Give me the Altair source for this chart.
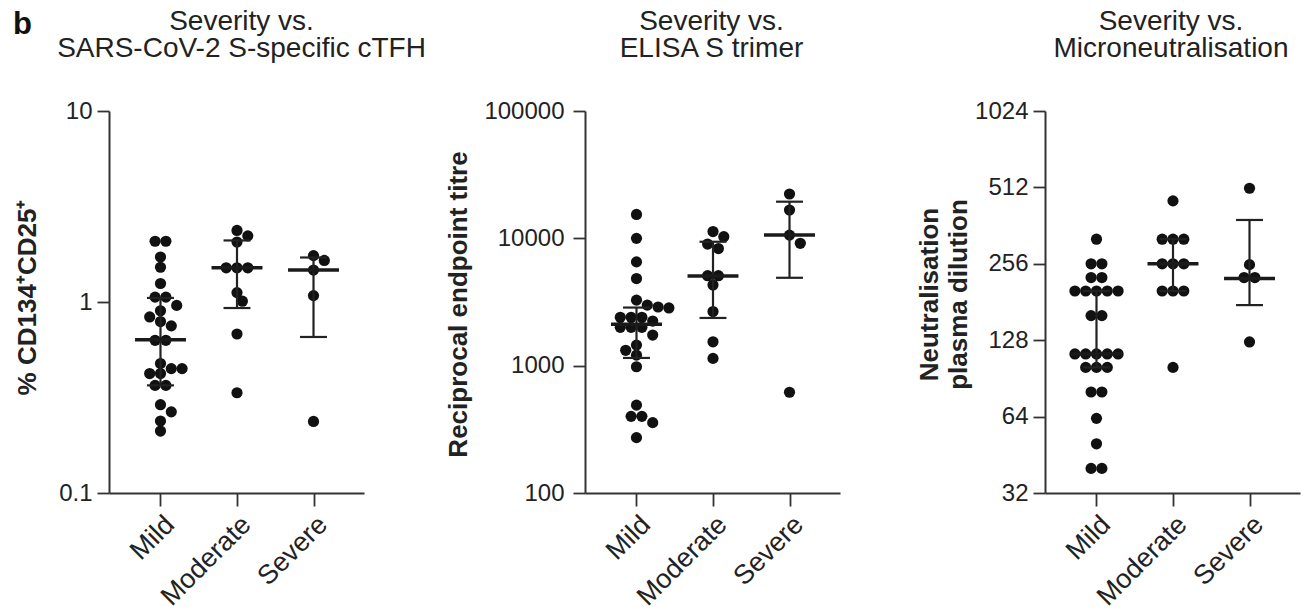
import math
import altair as alt
import pandas as pd

FONT = "Liberation Sans"

categories = ["Mild", "Moderate", "Severe"]

# Panel 1: % CD134+CD25+ (log10 axis)
cd134_mild = [2.08, 2.08, 1.72, 1.52, 1.25, 1.06, 1.06, 0.96, 0.90, 0.835, 0.79, 0.75,
              0.63, 0.63, 0.476, 0.448, 0.448, 0.422, 0.422, 0.366, 0.366, 0.29, 0.266,
              0.238, 0.211]
cd134_moderate = [2.37, 2.22, 2.06, 1.51, 1.51, 1.51, 1.12, 1.01, 0.68, 0.335]
cd134_severe = [1.75, 1.65, 1.47, 1.08, 0.237]
cd134_median = [0.635, 1.51, 1.47]
cd134_q1 = [0.366, 0.93, 0.656]
cd134_q3 = [1.05, 2.10, 1.71]

# Panel 2: ELISA S trimer reciprocal endpoint titre (log10 axis)
elisa_mild = [15400, 10000, 6530, 4830, 3270, 2990, 2890, 2840, 2400, 2400, 2400, 2240,
              2000, 2000, 2000, 1740, 1450, 1320, 1210, 980, 490, 400, 400, 357, 272]
elisa_moderate = [11300, 10300, 9020, 8310, 5090, 5090, 4300, 2660, 1540, 1140]
elisa_severe = [22300, 16700, 10600, 9140, 618]
elisa_median = [2110, 5070, 10600]
elisa_q1 = [1150, 2370, 4900]
elisa_q3 = [2860, 9400, 19400]

# Panel 3: Microneutralisation plasma dilution (log2 axis)
neut_mild = [320, 256, 256, 226, 226, 200, 200, 200, 200, 200, 160, 160, 113, 113, 113,
             113, 113, 100, 100, 100, 80, 80, 63, 50, 40, 40]
neut_moderate = [453, 320, 320, 320, 256, 256, 256, 200, 200, 200, 100]
neut_severe = [508, 254, 226, 226, 126]
neut_median = [113, 256, 224]
neut_q1 = [100, 200, 176]
neut_q3 = [200, 320, 381]

panel_titles = [
    "Severity vs.\nSARS-CoV-2 S-specific cTFH",
    "Severity vs.\nELISA S trimer",
    "Severity vs.\nMicroneutralisation",
]
panel_letter_text = ["b"]

W, H = 255, 382
UNIT = 76.5        # pixels per category step
DOT = 10.8         # swarm spacing in pixels
X_DOMAIN = [-0.673, 2.66]


def swarm(values, lo, hi):
    """Prism-like scatter layout: returns horizontal offsets in category units."""
    def ypx(v):
        return (math.log(v) - math.log(lo)) / (math.log(hi) - math.log(lo)) * H
    order = sorted(range(len(values)), key=lambda i: -values[i])
    rows = []
    for i in order:
        y = ypx(values[i])
        if rows and abs(rows[-1][0][1] - y) < 0.45 * DOT:
            rows[-1].append((i, y))
        else:
            rows.append([(i, y)])
    placed = []
    offs = [0.0] * len(values)
    shifts = sorted({0.0} | {s * m * DOT / 2 for m in range(1, 9) for s in (1, -1)},
                    key=lambda s: (abs(s), -s))
    for row in rows:
        n = len(row)
        pattern = [(k - (n - 1) / 2) * DOT for k in range(n)]
        best = 0.0
        for s in shifts:
            ok = all(math.hypot(px + s - qx, y - qy) >= 0.92 * DOT
                     for (_, y), px in zip(row, pattern) for (qx, qy) in placed)
            if ok:
                best = s
                break
        for (i, y), px in zip(row, pattern):
            offs[i] = (px + best) / UNIT
            placed.append((px + best, y))
    return offs


label_expr = "[" + ",".join("'%s'" % c for c in categories) + "][datum.value]"


def panel(groups, lo, hi, base, ticks, fmt, ytitle, title, tdx, tx, ty, lpad, summary,
          extra=None):
    rows = []
    for i, (cat, vals) in enumerate(zip(categories, groups)):
        for v, o in zip(vals, swarm(vals, lo, hi)):
            rows.append({"cat": cat, "x": i + o, "v": v})
    df = pd.DataFrame(rows)
    med, q1, q3 = summary
    sdf = pd.DataFrame({"i": [0, 1, 2], "med": med, "q1": q1, "q3": q3})
    sdf["ml"] = sdf["i"] - 0.333
    sdf["mr"] = sdf["i"] + 0.333
    sdf["cl"] = sdf["i"] - 0.176
    sdf["cr"] = sdf["i"] + 0.176

    xscale = alt.Scale(domain=X_DOMAIN, nice=False, zero=False)
    yscale = alt.Scale(type="log", base=base, domain=[lo, hi], nice=False)
    xaxis = alt.Axis(values=[0, 1, 2], labelExpr=label_expr, title=None, labelAngle=-45,
                     labelAlign="right", labelBaseline="top", tickSize=13, labelPadding=5,
                     labelOverlap=False, labelFontSize=27, grid=False)
    yaxis = alt.Axis(values=ticks, format=fmt, title=ytitle, titleX=tx, titleY=ty,
                     titleAngle=-90, titleAlign="center", titleBaseline="bottom",
                     titleLineHeight=29, tickSize=12, labelPadding=lpad, grid=False)

    def X(field):
        return alt.X(field, type="quantitative", scale=xscale, axis=xaxis)

    def Y(field):
        return alt.Y(field, type="quantitative", scale=yscale, axis=yaxis)

    pts = alt.Chart(df).mark_circle(size=125, color="#111111", opacity=1).encode(
        x=X("x"), y=Y("v"))
    vbar = alt.Chart(sdf).mark_rule(strokeWidth=2.2, color="#222222").encode(
        x=X("i"), y=Y("q1"), y2="q3")
    cap1 = alt.Chart(sdf).mark_rule(strokeWidth=2.2, color="#222222").encode(
        x=X("cl"), x2="cr", y=Y("q1"))
    cap2 = alt.Chart(sdf).mark_rule(strokeWidth=2.2, color="#222222").encode(
        x=X("cl"), x2="cr", y=Y("q3"))
    medr = alt.Chart(sdf).mark_rule(strokeWidth=3.5, color="#1a1a1a").encode(
        x=X("ml"), x2="mr", y=Y("med"))
    ttl = alt.Chart(pd.DataFrame({"t": [title]})).mark_text(
        font=FONT, fontSize=28, color="#222222", align="center", baseline="alphabetic",
        lineBreak="\n", lineHeight=27).encode(
        text="t:N", x=alt.value(W / 2 + tdx), y=alt.value(-81))
    layers = [pts, vbar, cap1, cap2, medr, ttl]
    if extra is not None:
        layers.append(extra)
    return alt.layer(*layers).properties(width=W, height=H)


def spacer(w):
    return alt.Chart(pd.DataFrame({"s": [0]})).mark_point(opacity=0).encode(
        x=alt.value(0), y=alt.value(0)).properties(width=w, height=H)


panel_letter = alt.Chart(pd.DataFrame({"t": panel_letter_text})).mark_text(
    font=FONT, fontSize=31, fontWeight="bold", color="#111111", align="left",
    baseline="alphabetic").encode(text="t:N", x=alt.value(-96), y=alt.value(-77))

p1 = panel([cd134_mild, cd134_moderate, cd134_severe], 0.1, 10, 10, [0.1, 1, 10], "~g",
           "% CD134\u207aCD25\u207a", panel_titles[0], 5,
           -69, 186, 5, (cd134_median, cd134_q1, cd134_q3), extra=panel_letter)
p2 = panel([elisa_mild, elisa_moderate, elisa_severe], 100, 100000, 10,
           [100, 1000, 10000, 100000], "d", "Reciprocal endpoint titre",
           panel_titles[1], -1, -114, 193, 9,
           (elisa_median, elisa_q1, elisa_q3))
p3 = panel([neut_mild, neut_moderate, neut_severe], 32, 1024, 2,
           [32, 64, 128, 256, 512, 1024], "d", ["Neutralisation", "plasma dilution"],
           panel_titles[2], -1.5, -103, 183, 5,
           (neut_median, neut_q1, neut_q3))

chart = alt.hconcat(p1, spacer(221), p2, spacer(205), p3, spacing=0, bounds="flush").properties(
    padding={"left": 5, "top": 0, "right": 5, "bottom": 0}
).configure_view(stroke=None).configure_axis(
    domainColor="#333333", domainWidth=2, tickColor="#333333", tickWidth=1.8,
    labelFont=FONT, labelFontSize=24, labelColor="#222222",
    titleFont=FONT, titleFontSize=26, titleFontWeight="bold", titleColor="#222222",
    grid=False
)

chart.save("out.html", embed_options={"renderer": "svg", "actions": False})
